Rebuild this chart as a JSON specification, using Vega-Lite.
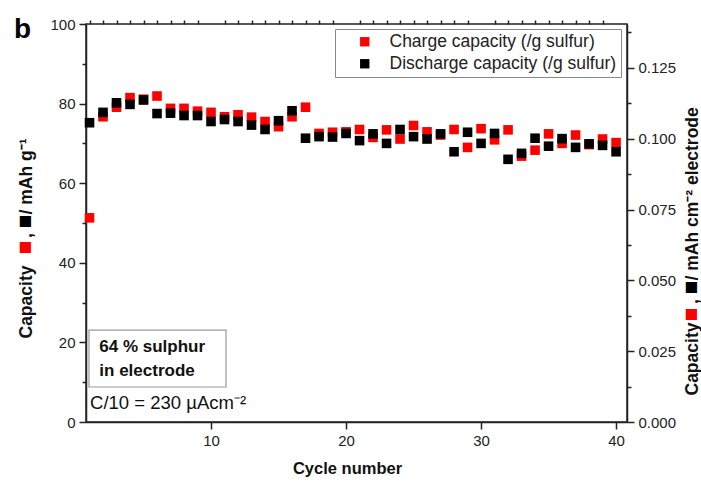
{
  "$schema": "https://vega.github.io/schema/vega-lite/v6.json",
  "width": 541,
  "height": 398,
  "autosize": {"type": "none"},
  "padding": {"left": 86, "top": 24, "right": 74, "bottom": 62},
  "config": {
    "font": "Liberation Sans",
    "view": {"stroke": "#222", "strokeWidth": 1.5},
    "axis": {
      "grid": false,
      "domainColor": "#222",
      "domainWidth": 1.5,
      "tickColor": "#222",
      "tickWidth": 1.5,
      "labelColor": "#222",
      "labelFontSize": 15,
      "labelFont": "Liberation Sans",
      "titleColor": "#111",
      "titleFont": "Liberation Sans",
      "titleFontSize": 17.5,
      "titleFontWeight": "bold"
    }
  },
  "title": {
    "text": "b",
    "anchor": "start",
    "frame": "group",
    "font": "Liberation Sans",
    "fontSize": 28,
    "fontWeight": "bold",
    "color": "#000",
    "baseline": "alphabetic",
    "dx": -72,
    "offset": -49
  },
  "data": {
    "values": [
      {"cycle": 1, "series": "Charge capacity (/g sulfur)", "capacity": 51.3},
      {"cycle": 2, "series": "Charge capacity (/g sulfur)", "capacity": 76.7},
      {"cycle": 3, "series": "Charge capacity (/g sulfur)", "capacity": 79.1},
      {"cycle": 4, "series": "Charge capacity (/g sulfur)", "capacity": 81.5},
      {"cycle": 5, "series": "Charge capacity (/g sulfur)", "capacity": 81.1},
      {"cycle": 6, "series": "Charge capacity (/g sulfur)", "capacity": 81.9},
      {"cycle": 7, "series": "Charge capacity (/g sulfur)", "capacity": 78.8},
      {"cycle": 8, "series": "Charge capacity (/g sulfur)", "capacity": 78.8},
      {"cycle": 9, "series": "Charge capacity (/g sulfur)", "capacity": 78.1},
      {"cycle": 10, "series": "Charge capacity (/g sulfur)", "capacity": 77.8},
      {"cycle": 11, "series": "Charge capacity (/g sulfur)", "capacity": 76.7},
      {"cycle": 12, "series": "Charge capacity (/g sulfur)", "capacity": 77.2},
      {"cycle": 13, "series": "Charge capacity (/g sulfur)", "capacity": 76.6},
      {"cycle": 14, "series": "Charge capacity (/g sulfur)", "capacity": 75.5},
      {"cycle": 15, "series": "Charge capacity (/g sulfur)", "capacity": 74.2},
      {"cycle": 16, "series": "Charge capacity (/g sulfur)", "capacity": 76.7},
      {"cycle": 17, "series": "Charge capacity (/g sulfur)", "capacity": 79.1},
      {"cycle": 18, "series": "Charge capacity (/g sulfur)", "capacity": 72.5},
      {"cycle": 19, "series": "Charge capacity (/g sulfur)", "capacity": 72.8},
      {"cycle": 20, "series": "Charge capacity (/g sulfur)", "capacity": 72.9},
      {"cycle": 21, "series": "Charge capacity (/g sulfur)", "capacity": 73.5},
      {"cycle": 22, "series": "Charge capacity (/g sulfur)", "capacity": 71.5},
      {"cycle": 23, "series": "Charge capacity (/g sulfur)", "capacity": 73.4},
      {"cycle": 24, "series": "Charge capacity (/g sulfur)", "capacity": 71.1},
      {"cycle": 25, "series": "Charge capacity (/g sulfur)", "capacity": 74.5},
      {"cycle": 26, "series": "Charge capacity (/g sulfur)", "capacity": 72.9},
      {"cycle": 27, "series": "Charge capacity (/g sulfur)", "capacity": 72.1},
      {"cycle": 28, "series": "Charge capacity (/g sulfur)", "capacity": 73.5},
      {"cycle": 29, "series": "Charge capacity (/g sulfur)", "capacity": 69.0},
      {"cycle": 30, "series": "Charge capacity (/g sulfur)", "capacity": 73.7},
      {"cycle": 31, "series": "Charge capacity (/g sulfur)", "capacity": 70.9},
      {"cycle": 32, "series": "Charge capacity (/g sulfur)", "capacity": 73.4},
      {"cycle": 33, "series": "Charge capacity (/g sulfur)", "capacity": 66.8},
      {"cycle": 34, "series": "Charge capacity (/g sulfur)", "capacity": 68.3},
      {"cycle": 35, "series": "Charge capacity (/g sulfur)", "capacity": 72.4},
      {"cycle": 36, "series": "Charge capacity (/g sulfur)", "capacity": 70.0},
      {"cycle": 37, "series": "Charge capacity (/g sulfur)", "capacity": 72.1},
      {"cycle": 38, "series": "Charge capacity (/g sulfur)", "capacity": 69.7},
      {"cycle": 39, "series": "Charge capacity (/g sulfur)", "capacity": 71.1},
      {"cycle": 40, "series": "Charge capacity (/g sulfur)", "capacity": 70.2},
      {"cycle": 1, "series": "Discharge capacity (/g sulfur)", "capacity": 75.2},
      {"cycle": 2, "series": "Discharge capacity (/g sulfur)", "capacity": 77.8},
      {"cycle": 3, "series": "Discharge capacity (/g sulfur)", "capacity": 80.2},
      {"cycle": 4, "series": "Discharge capacity (/g sulfur)", "capacity": 79.8},
      {"cycle": 5, "series": "Discharge capacity (/g sulfur)", "capacity": 80.9},
      {"cycle": 6, "series": "Discharge capacity (/g sulfur)", "capacity": 77.5},
      {"cycle": 7, "series": "Discharge capacity (/g sulfur)", "capacity": 77.6},
      {"cycle": 8, "series": "Discharge capacity (/g sulfur)", "capacity": 77.0},
      {"cycle": 9, "series": "Discharge capacity (/g sulfur)", "capacity": 77.0},
      {"cycle": 10, "series": "Discharge capacity (/g sulfur)", "capacity": 75.5},
      {"cycle": 11, "series": "Discharge capacity (/g sulfur)", "capacity": 76.0},
      {"cycle": 12, "series": "Discharge capacity (/g sulfur)", "capacity": 75.5},
      {"cycle": 13, "series": "Discharge capacity (/g sulfur)", "capacity": 74.6},
      {"cycle": 14, "series": "Discharge capacity (/g sulfur)", "capacity": 73.5},
      {"cycle": 15, "series": "Discharge capacity (/g sulfur)", "capacity": 75.7},
      {"cycle": 16, "series": "Discharge capacity (/g sulfur)", "capacity": 78.2},
      {"cycle": 17, "series": "Discharge capacity (/g sulfur)", "capacity": 71.3},
      {"cycle": 18, "series": "Discharge capacity (/g sulfur)", "capacity": 71.7},
      {"cycle": 19, "series": "Discharge capacity (/g sulfur)", "capacity": 71.6},
      {"cycle": 20, "series": "Discharge capacity (/g sulfur)", "capacity": 72.5},
      {"cycle": 21, "series": "Discharge capacity (/g sulfur)", "capacity": 70.7},
      {"cycle": 22, "series": "Discharge capacity (/g sulfur)", "capacity": 72.4},
      {"cycle": 23, "series": "Discharge capacity (/g sulfur)", "capacity": 70.0},
      {"cycle": 24, "series": "Discharge capacity (/g sulfur)", "capacity": 73.5},
      {"cycle": 25, "series": "Discharge capacity (/g sulfur)", "capacity": 71.7},
      {"cycle": 26, "series": "Discharge capacity (/g sulfur)", "capacity": 71.1},
      {"cycle": 27, "series": "Discharge capacity (/g sulfur)", "capacity": 72.4},
      {"cycle": 28, "series": "Discharge capacity (/g sulfur)", "capacity": 67.9},
      {"cycle": 29, "series": "Discharge capacity (/g sulfur)", "capacity": 72.8},
      {"cycle": 30, "series": "Discharge capacity (/g sulfur)", "capacity": 70.0},
      {"cycle": 31, "series": "Discharge capacity (/g sulfur)", "capacity": 72.5},
      {"cycle": 32, "series": "Discharge capacity (/g sulfur)", "capacity": 66.0},
      {"cycle": 33, "series": "Discharge capacity (/g sulfur)", "capacity": 67.5},
      {"cycle": 34, "series": "Discharge capacity (/g sulfur)", "capacity": 71.3},
      {"cycle": 35, "series": "Discharge capacity (/g sulfur)", "capacity": 69.3},
      {"cycle": 36, "series": "Discharge capacity (/g sulfur)", "capacity": 71.2},
      {"cycle": 37, "series": "Discharge capacity (/g sulfur)", "capacity": 69.0},
      {"cycle": 38, "series": "Discharge capacity (/g sulfur)", "capacity": 69.9},
      {"cycle": 39, "series": "Discharge capacity (/g sulfur)", "capacity": 69.5},
      {"cycle": 40, "series": "Discharge capacity (/g sulfur)", "capacity": 67.9}
    ]
  },
  "layer": [
    {
      "mark": {"type": "point", "shape": "square", "filled": true, "size": 92, "opacity": 1},
      "encoding": {
        "x": {
          "field": "cycle",
          "type": "quantitative",
          "scale": {"domain": [0.74, 40.81], "nice": false, "zero": false},
          "axis": {"values": [10, 20, 30, 40], "tickSize": 7, "labelPadding": 4, "title": "Cycle number", "titleFontSize": 16.5, "titlePadding": 12, "titleX": 261}
        },
        "y": {
          "field": "capacity",
          "type": "quantitative",
          "scale": {"domain": [0, 100], "nice": false},
          "axis": {
            "orient": "left",
            "values": [0, 20, 40, 60, 80, 100],
            "tickSize": 7,
            "labelPadding": 4,
            "title": "Capacity",
            "titleAngle": -90,
            "titleAlign": "left",
            "titleBaseline": "alphabetic",
            "titleX": -55,
            "titleY": 314
          }
        },
        "color": {
          "field": "series",
          "type": "nominal",
          "scale": {
            "domain": ["Charge capacity (/g sulfur)", "Discharge capacity (/g sulfur)"],
            "range": ["#ff0000", "#000000"]
          },
          "legend": {
            "title": null,
            "orient": "none",
            "legendX": 249,
            "legendY": 5,
            "symbolType": "square",
            "symbolSize": 88,
            "symbolOffset": 17,
            "labelOffset": 16,
            "labelFontSize": 17.5,
            "labelFont": "Liberation Sans",
            "labelColor": "#222",
            "labelLimit": 400,
            "rowPadding": 3,
            "padding": 4,
            "strokeColor": "#888",
            "fillColor": "#ffffff"
          }
        }
      }
    },
    {
      "data": {"values": [{}]},
      "mark": {"type": "rule", "opacity": 0},
      "encoding": {
        "y": {
          "datum": 0,
          "type": "quantitative",
          "scale": {"domain": [0, 100], "nice": false},
          "axis": {
            "orient": "left",
            "values": [10, 30, 50, 70, 90],
            "tickSize": 4,
            "labels": false,
            "domain": false,
            "title": "■",
            "titleFont": "Noto Sans CJK SC",
            "titleFontSize": 14,
            "titleFontWeight": "normal",
            "titleColor": "#ff0000",
            "titleAngle": -90,
            "titleAlign": "center",
            "titleBaseline": "middle",
            "titleX": -60.5,
            "titleY": 223
          }
        }
      }
    },
    {
      "data": {"values": [{}]},
      "mark": {"type": "rule", "opacity": 0},
      "encoding": {
        "y": {
          "datum": 0,
          "type": "quantitative",
          "scale": {"domain": [0, 100], "nice": false},
          "axis": {
            "orient": "left",
            "ticks": false,
            "labels": false,
            "domain": false,
            "title": ",",
            "titleAngle": -90,
            "titleAlign": "center",
            "titleBaseline": "alphabetic",
            "titleX": -55,
            "titleY": 211
          }
        }
      }
    },
    {
      "data": {"values": [{}]},
      "mark": {"type": "rule", "opacity": 0},
      "encoding": {
        "y": {
          "datum": 0,
          "type": "quantitative",
          "scale": {"domain": [0, 100], "nice": false},
          "axis": {
            "orient": "left",
            "ticks": false,
            "labels": false,
            "domain": false,
            "title": "■",
            "titleFont": "Noto Sans CJK SC",
            "titleFontSize": 14,
            "titleFontWeight": "normal",
            "titleColor": "#000000",
            "titleAngle": -90,
            "titleAlign": "center",
            "titleBaseline": "middle",
            "titleX": -60.5,
            "titleY": 197
          }
        }
      }
    },
    {
      "data": {"values": [{}]},
      "mark": {"type": "rule", "opacity": 0},
      "encoding": {
        "y": {
          "datum": 0,
          "type": "quantitative",
          "scale": {"domain": [0, 100], "nice": false},
          "axis": {
            "orient": "left",
            "ticks": false,
            "labels": false,
            "domain": false,
            "title": "/ mAh g⁻¹",
            "titleAngle": -90,
            "titleAlign": "left",
            "titleBaseline": "alphabetic",
            "titleX": -55,
            "titleY": 190
          }
        }
      }
    },
    {
      "data": {"values": [{}]},
      "mark": {"type": "rule", "opacity": 0},
      "encoding": {
        "x": {
          "datum": 1,
          "type": "quantitative",
          "axis": {
            "values": [1, 2, 3, 4, 5, 6, 7, 8, 9, 11, 12, 13, 14, 15, 16, 17, 18, 19, 21, 22, 23, 24, 25, 26, 27, 28, 29, 31, 32, 33, 34, 35, 36, 37, 38, 39],
            "tickSize": 4,
            "labels": false,
            "domain": false,
            "title": null
          }
        }
      }
    },
    {
      "data": {"values": [{}]},
      "mark": {"type": "rule", "opacity": 0},
      "encoding": {
        "y": {
          "datum": 0,
          "type": "quantitative",
          "scale": {"domain": [0, 0.1405], "nice": false},
          "axis": {
            "orient": "right",
            "values": [0, 0.025, 0.05, 0.075, 0.1, 0.125],
            "format": ".3f",
            "tickSize": 7,
            "labelPadding": 4,
            "title": "Capacity",
            "titleAngle": -90,
            "titleAlign": "left",
            "titleBaseline": "alphabetic",
            "titleX": 70,
            "titleY": 371
          }
        }
      }
    },
    {
      "data": {"values": [{}]},
      "mark": {"type": "rule", "opacity": 0},
      "encoding": {
        "y": {
          "datum": 0,
          "type": "quantitative",
          "scale": {"domain": [0, 0.1405], "nice": false},
          "axis": {
            "orient": "right",
            "values": [0.0125, 0.0375, 0.0625, 0.0875, 0.1125, 0.1375],
            "tickSize": 4,
            "labels": false,
            "domain": false,
            "title": "■",
            "titleFont": "Noto Sans CJK SC",
            "titleFontSize": 14,
            "titleFontWeight": "normal",
            "titleColor": "#ff0000",
            "titleAngle": -90,
            "titleAlign": "center",
            "titleBaseline": "middle",
            "titleX": 64.5,
            "titleY": 290
          }
        }
      }
    },
    {
      "data": {"values": [{}]},
      "mark": {"type": "rule", "opacity": 0},
      "encoding": {
        "y": {
          "datum": 0,
          "type": "quantitative",
          "scale": {"domain": [0, 0.1405], "nice": false},
          "axis": {
            "orient": "right",
            "ticks": false,
            "labels": false,
            "domain": false,
            "title": ",",
            "titleAngle": -90,
            "titleAlign": "center",
            "titleBaseline": "alphabetic",
            "titleX": 70,
            "titleY": 277
          }
        }
      }
    },
    {
      "data": {"values": [{}]},
      "mark": {"type": "rule", "opacity": 0},
      "encoding": {
        "y": {
          "datum": 0,
          "type": "quantitative",
          "scale": {"domain": [0, 0.1405], "nice": false},
          "axis": {
            "orient": "right",
            "ticks": false,
            "labels": false,
            "domain": false,
            "title": "■",
            "titleFont": "Noto Sans CJK SC",
            "titleFontSize": 14,
            "titleFontWeight": "normal",
            "titleColor": "#000000",
            "titleAngle": -90,
            "titleAlign": "center",
            "titleBaseline": "middle",
            "titleX": 64.5,
            "titleY": 263
          }
        }
      }
    },
    {
      "data": {"values": [{}]},
      "mark": {"type": "rule", "opacity": 0},
      "encoding": {
        "y": {
          "datum": 0,
          "type": "quantitative",
          "scale": {"domain": [0, 0.1405], "nice": false},
          "axis": {
            "orient": "right",
            "ticks": false,
            "labels": false,
            "domain": false,
            "title": "/ mAh cm⁻² electrode",
            "titleAngle": -90,
            "titleAlign": "left",
            "titleBaseline": "alphabetic",
            "titleX": 70,
            "titleY": 256
          }
        }
      }
    },
    {
      "data": {"values": [{}]},
      "mark": {"type": "rect", "fill": "#ffffff", "stroke": "#999999", "strokeWidth": 1.2},
      "encoding": {
        "x": {"datum": 0.96, "type": "quantitative", "axis": null},
        "x2": {"datum": 11.11},
        "y": {"datum": 23.1, "type": "quantitative", "scale": {"domain": [0, 100], "nice": false}, "axis": null},
        "y2": {"datum": 8.8}
      }
    },
    {
      "data": {"values": [{}]},
      "mark": {
        "type": "text",
        "text": ["64 % sulphur", "in electrode"],
        "align": "left",
        "baseline": "middle",
        "lineHeight": 23.7,
        "font": "Liberation Sans",
        "fontSize": 17,
        "fontWeight": "bold",
        "color": "#111"
      },
      "encoding": {
        "x": {"datum": 1.725, "type": "quantitative", "axis": null},
        "y": {"datum": 18.8, "type": "quantitative", "scale": {"domain": [0, 100], "nice": false}, "axis": null}
      }
    },
    {
      "data": {"values": [{}]},
      "mark": {
        "type": "text",
        "text": "C/10 = 230 µAcm⁻²",
        "align": "left",
        "baseline": "middle",
        "font": "Liberation Sans",
        "fontSize": 18.5,
        "color": "#111"
      },
      "encoding": {
        "x": {"datum": 1.04, "type": "quantitative", "axis": null},
        "y": {"datum": 4.7, "type": "quantitative", "scale": {"domain": [0, 100], "nice": false}, "axis": null}
      }
    }
  ],
  "resolve": {
    "scale": {"y": "independent"},
    "axis": {"x": "independent", "y": "independent"}
  }
}
